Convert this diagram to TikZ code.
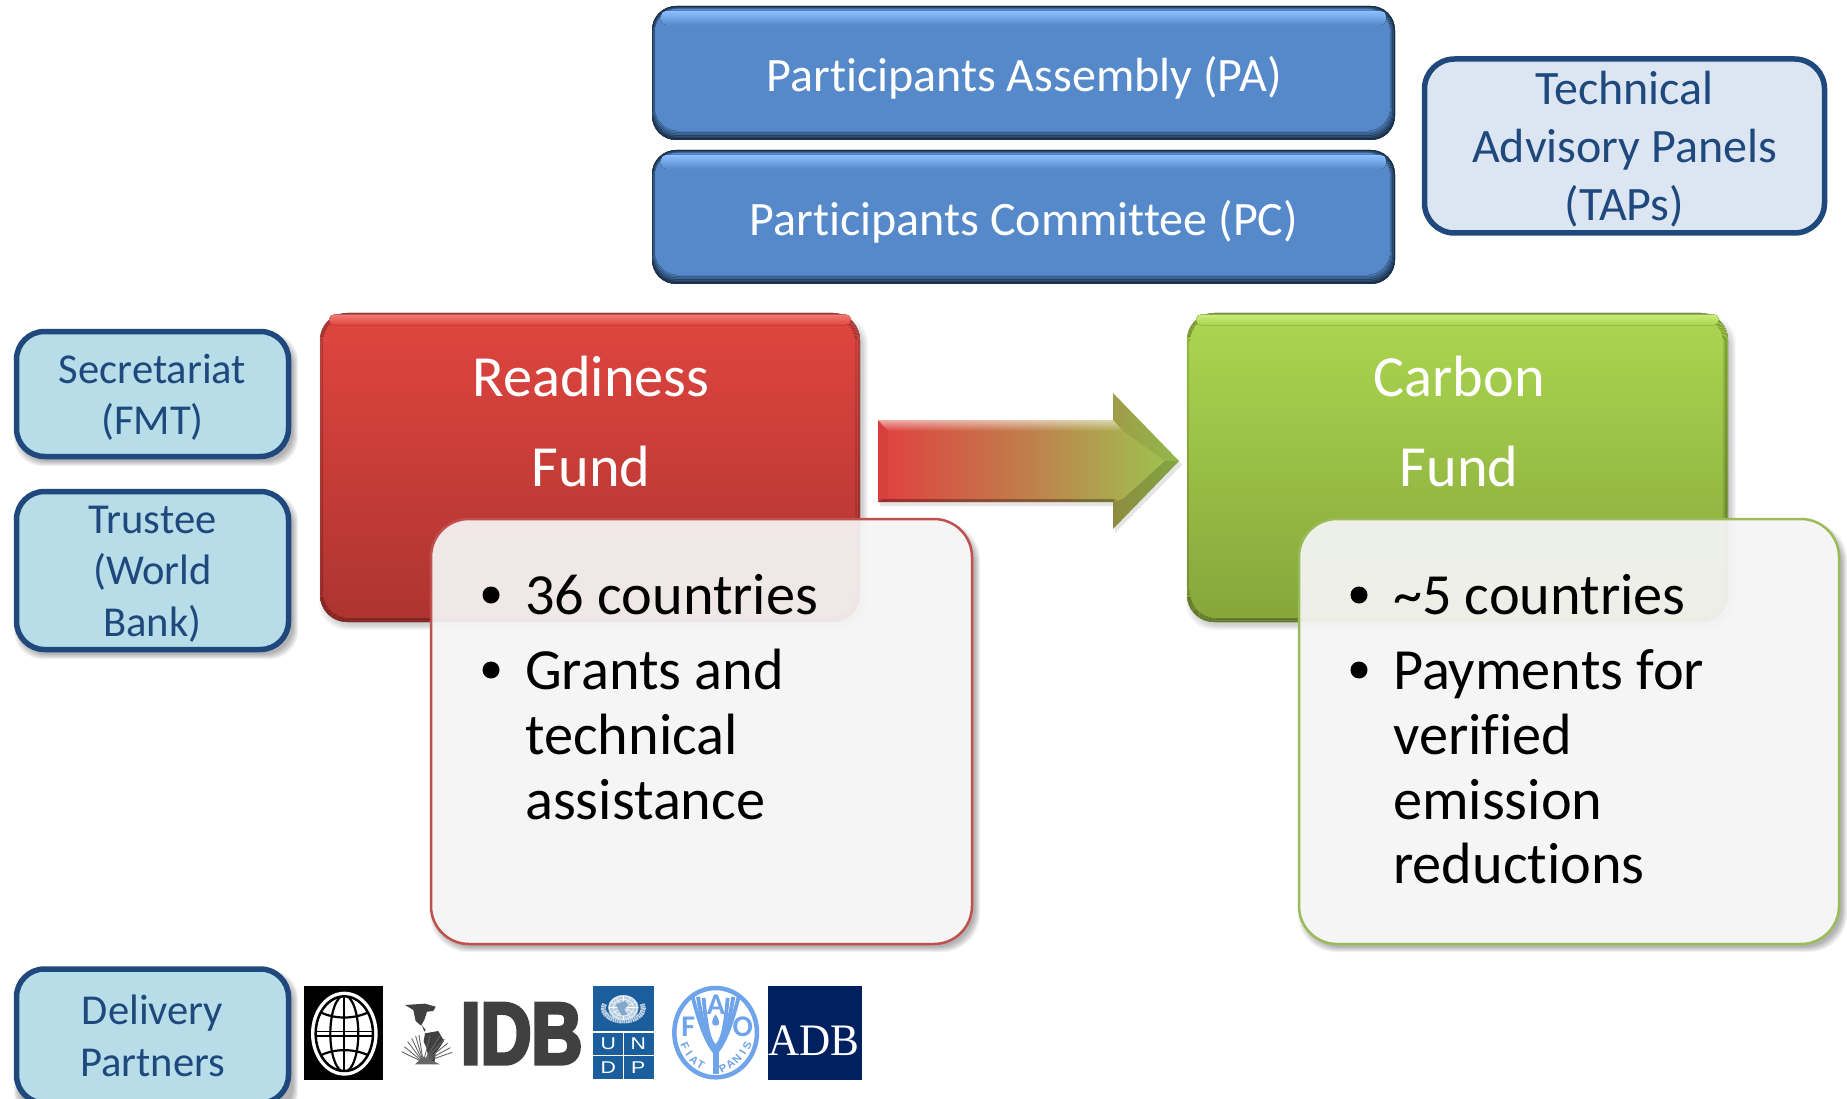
\documentclass[tikz,border=0pt]{standalone}
\usetikzlibrary{fadings}
\usepackage{fontspec}
\setmainfont{Carlito}[Ligatures={NoCommon,NoRequired,NoContextual}]
\newfontfamily\idbf[FakeStretch=.8,BoldFeatures={FakeBold=4,FakeStretch=.8}]{Liberation Sans}
\newfontfamily\undpf{Liberation Sans}
\newfontfamily\undpw[FakeStretch=1.25]{Liberation Sans}
\newfontfamily\adbf[FakeStretch=.96]{Liberation Serif}
\definecolor{navyline}{HTML}{1F497D}
\definecolor{paleblue}{HTML}{B7DDE8}
\definecolor{paleblue2}{HTML}{DCE6F2}
\definecolor{unblue}{HTML}{1A5E9E}
\definecolor{faoblue}{HTML}{6FA3EA}
\definecolor{adbnavy}{HTML}{002060}
\definecolor{idbgrey}{HTML}{404040}
\definecolor{redline}{HTML}{C0504D}
\definecolor{greenline}{HTML}{9BBB59}
\definecolor{blueface}{HTML}{5589C9}
\definecolor{blueedge}{HTML}{1B3350}
\definecolor{bluehi}{HTML}{8CBFFF}
\definecolor{redtop}{HTML}{E0453F}
\definecolor{redbot}{HTML}{AE3431}
\definecolor{rededge}{HTML}{A8322F}
\definecolor{redtopedge}{HTML}{D8504C}
\definecolor{redhi}{HTML}{F47A74}
\definecolor{greentop}{HTML}{ABD650}
\definecolor{greenbot}{HTML}{86A63B}
\definecolor{greenedge}{HTML}{7F9C37}
\definecolor{greentopedge}{HTML}{A8D052}
\definecolor{greenhi}{HTML}{C8EC78}
\definecolor{arrowred}{HTML}{E0403F}
\definecolor{arrowmid}{HTML}{C07F4C}
\definecolor{arrowgreen}{HTML}{9CC850}
\newcommand\fs[2]{\fontsize{#1}{#2}\selectfont}
\newcommand\softshadow[6]{%
  \foreach \i in {0,...,5}{\fill[black,opacity=#6,rounded corners=#5pt]
    ({#1+\i-1},{#2+\i+3}) rectangle ({#3+8-\i},{#4+10-\i});}}
% x1 y1 x2 y2 r edge facetop facebottom highlight
\newcommand\bevelbox[9]{%
  \fill[top color=\topedge,bottom color=#6,rounded corners=#5pt] (#1,#2) rectangle (#3,#4);
  \foreach \t/\p in {1/17,2/33,3/50,4/67,5/83,6/100}{%
    \fill[top color=#7!\p!\topedge,bottom color=#8!\p!#6,rounded corners=#5pt]
      ({#1+\t*.45},{#2+\t*.4}) rectangle ({#3-\t*.8},{#4-\t*\bevB});}
  \fill[top color=#9,bottom color=#7,rounded corners=5pt]
    ({#1+9},{#2+\bandt}) rectangle ({#3-9},{#2+\bandh});}
\tikzset{
  sidebox/.style={draw=navyline,line width=5.5pt,fill=paleblue,rounded corners=28pt},
  sidelabel/.style={align=center,text=navyline,font=\fs{42.6}{51.5}},
  toplabel/.style={text=white,font=\fs{48}{58},align=center},
  fundlabel/.style={text=white,font=\fs{58.3}{90},align=center},
  bodytext/.style={text=black,font=\fs{58.3}{64.8},align=left,anchor=base west,inner sep=0pt},
  dot/.style={circle,fill=black,minimum size=17pt,inner sep=0pt},
  infobox/.style={rounded corners=38pt,fill=black!4,fill opacity=.93,line width=2.5pt},
}
\begin{document}
\begin{tikzpicture}[x=1pt,y=-1pt]
\useasboundingbox (0,0) rectangle (1847,1099);
\fill[white] (0,0) rectangle (1847,1099);
% top boxes
\def\bandt{5}\def\bandh{19}\def\bevB{1.5}\def\topedge{blueedge}
\bevelbox{652}{6}{1395}{140}{24}{blueedge}{blueface}{blueface}{bluehi}
\bevelbox{652}{150}{1395}{284}{24}{blueedge}{blueface}{blueface}{bluehi}
\node[toplabel] (pa) at (1024,77.5) {Participants Assembly (PA)};
\node[toplabel] (pc) at (1024,221.5) {Participants Committee (PC)};
% TAPs
\node[sidebox,fill=paleblue2,minimum width=400pt,minimum height=174pt,rounded corners=30pt] (tapbox) at (1624.5,146) {};
\node[sidelabel,font=\fs{48}{58}] (taps) at ([yshift=-3.5pt]tapbox.center) {Technical\\Advisory Panels\\(TAPs)};
% side boxes
\softshadow{15}{330}{290}{456}{28}{.055}
\node[sidebox,minimum width=272pt,minimum height=125pt] (secbox) at (152.5,394) {};
\node[sidelabel] (sec) at ([yshift=-3.5pt]secbox.center) {Secretariat\\(FMT)};
\softshadow{15}{490}{290}{649}{28}{.055}
\node[sidebox,minimum width=272pt,minimum height=158pt] (trubox) at (152.5,570.5) {};
\node[sidelabel] (tru) at ([yshift=-3.5pt]trubox.center) {Trustee\\(World\\Bank)};
\softshadow{15}{967}{290}{1110}{28}{.055}
\node[sidebox,minimum width=272pt,minimum height=134pt] (delbox) at (152.5,1036) {};
\node[sidelabel] (del) at (delbox.center) {Delivery\\Partners};
% funds
\def\bandt{1.5}\def\bandh{12}\def\bevB{.6}
\softshadow{320}{313}{860}{620}{27}{.03}
\def\topedge{redtopedge}
\bevelbox{320}{313}{860}{622}{27}{rededge}{redtop}{redbot}{redhi}
\softshadow{1187}{313}{1728}{620}{27}{.03}
\def\topedge{greentopedge}
\bevelbox{1187}{313}{1728}{622}{27}{greenedge}{greentop}{greenbot}{greenhi}
\node[fundlabel] (rf) at (591,421) {Readiness\\Fund};
\node[fundlabel] (cf) at (1459,421) {Carbon\\Fund};
% arrow
\fill[black,opacity=.1] (880,424) -- (1115,424) -- (1115,397) -- (1182,465) -- (1115,533) -- (1115,506) -- (880,506) -- cycle;
\shade[left color=arrowred,right color=arrowgreen,middle color=arrowmid] 
  (878,420) -- (1113,420) -- (1113,393) -- (1179,461) -- (1113,529) -- (1113,502) -- (878,502) -- cycle;
\fill[white,opacity=.55,path fading=south] (878,420) -- (1113,420) -- (1123,431) -- (888,431) -- cycle;
\fill[black,opacity=.04] (878,420) -- (888,431) -- (888,497) -- (878,502) -- cycle;
\fill[black,opacity=.3] (878,502) -- (1113,502) -- (1116,499) -- (883,499) -- cycle;
\fill[black,opacity=.07] (1113,393) -- (1179,461) -- (1165,461) -- (1123,431) -- (1113,420) -- cycle;
\fill[black,opacity=.17] (1113,529) -- (1179,461) -- (1165,461) -- (1123,499) -- (1113,502) -- cycle;
% info boxes
\begin{scope}[even odd rule,rounded corners=38pt]
  \clip (-200,-200) rectangle (2100,1300) (431,519) rectangle (972,944);
  \softshadow{431}{519}{972}{942}{38}{.055}
\end{scope}
\draw[infobox,draw=redline] (431,519) rectangle (972,944);
\begin{scope}[even odd rule,rounded corners=38pt]
  \clip (-200,-200) rectangle (2100,1300) (1299,519) rectangle (1839,944);
  \softshadow{1299}{519}{1839}{942}{38}{.055}
\end{scope}
\draw[infobox,draw=greenline] (1299,519) rectangle (1839,944);
\node[dot] (b1) at (491,595) {};
\node[dot] (b2) at (491,670) {};
\node[bodytext] (t1) at (525,614) {36 countries};
\node[bodytext] (t2) at (525,689) {Grants and};
\node[bodytext] (t3) at (525,754) {technical};
\node[bodytext] (t4) at (525,819) {assistance};
\node[dot] (b3) at (1359,595) {};
\node[dot] (b4) at (1359,670) {};
\node[bodytext] (u1) at (1393,614) {\char`\~5 countries};
\node[bodytext] (u2) at (1393,689) {Payments for};
\node[bodytext] (u3) at (1393,754) {verified};
\node[bodytext] (u4) at (1393,819) {emission};
\node[bodytext] (u5) at (1393,883) {reductions};
% World Bank and IDB logos
\begin{scope}[shift={(295,975)},x=.3333pt,y=-.3333pt]
  \fill[black] (27,33) rectangle (264,315);
  \fill[white] (148,176) ellipse [x radius=100,y radius=126];
  \draw[black,line width=2.5pt] (148,176) ellipse [x radius=86,y radius=112];
  \begin{scope}
    \clip (148,176) ellipse [x radius=86,y radius=112];
    \draw[black,line width=2.2pt] (148,60) -- (148,292);
    \draw[black,line width=2.2pt] (148,176) ellipse [x radius=42,y radius=115];
    \draw[black,line width=1.6pt] (55,170) -- (240,170) (55,183) -- (240,183);
    \draw[black,line width=2.2pt] (65,105) .. controls (110,135) and (186,135) .. (232,105);
    \draw[black,line width=2.2pt] (65,248) .. controls (110,218) and (186,218) .. (232,248);
  \end{scope}
  % IDB emblem
  \fill[idbgrey] (330,90) -- (390,86) -- (422,95) -- (415,108) -- (396,110) -- (388,135) -- (378,152) -- (362,138) -- (355,105) -- cycle;
  \fill[idbgrey] (380,150) -- (392,165) -- (388,170) -- cycle;
  \fill[idbgrey] (390,175) -- (430,168) -- (447,198) -- (422,235) -- (418,268) -- (400,264) -- (396,222) -- (386,200) -- cycle;
  \foreach \a/\b in {320/230,328/215,338/200,350/190,362/183,372/180,405/182,435/183,448/192,458/205,466/218,472/232}{
    \draw[idbgrey!80,line width=.9pt] (\a,\b) -- (385,262);}
  \fill[idbgrey!80] (360,268) -- (385,245) -- (435,268) -- cycle;
  \node[text=idbgrey,inner sep=0pt] (idb) at (680,176) {\idbf\bfseries\fs{88}{88}IDB};
\end{scope}
% UNDP, FAO and ADB logos
\begin{scope}[shift={(585,975)},x=.3333pt,y=-.3333pt]
  \fill[unblue] (24,33) rectangle (206,312);
  \fill[white] (24,168) rectangle (206,173);
  \fill[white] (24,240) rectangle (206,244);
  \fill[white] (113,173) rectangle (117,312);
  % UN emblem
  \draw[white!72!unblue,line width=5pt,dash pattern=on 1.6pt off .6pt] (115,100) ++(200:60 and 38) arc[start angle=200,end angle=-20,x radius=60,y radius=38];
  \fill[white!70!unblue] (115,98) ellipse [x radius=46,y radius=38];
  \foreach \r in {.33,.66,.92}{\draw[white,line width=.5pt] (115,98) ellipse [x radius={46*\r},y radius={38*\r}];}
  \foreach \a in {0,30,...,330}{\draw[white,line width=.4pt] (115,98) -- ++({44*cos(\a)},{36*sin(\a)});}
  \fill[unblue!55!white] (92,88) -- (120,78) -- (130,90) -- (118,104) -- (128,118) -- (112,122) -- (100,104) -- cycle;
  \tikzset{undpl/.style={text=white,inner sep=0pt,font=\undpw\fs{17}{17}}}
  \node[undpl] (lu) at (70,206) {U};
  \node[undpl] (ln) at (160,206) {N};
  \node[undpl] (ld) at (70,278) {D};
  \node[undpl] (lp) at (160,278) {P};
  % FAO
  \draw[faoblue,line width=4.5pt,fill=white] (392,173) ellipse [x radius=124,y radius=134];
  \foreach \d in {0,17,34}{
    \draw[faoblue,line width=3.8pt] ({322+\d},{62+\d*.2}) .. controls ({342+\d*.6},{140+\d*.3}) and ({362+\d*.3},{200+\d*.1}) .. (392,{235-\d*.6});
    \draw[faoblue,line width=3.8pt] ({462-\d},{62+\d*.2}) .. controls ({442-\d*.6},{140+\d*.3}) and ({422-\d*.3},{200+\d*.1}) .. (392,{235-\d*.6});}
  \fill[faoblue] (392,118) .. controls (380,135) and (376,152) .. (392,152) .. controls (408,152) and (404,135) .. (392,118) -- cycle;
  \fill[faoblue] (383,222) -- (401,222) -- (401,298) -- (383,298) -- cycle;
  \node[text=faoblue,inner sep=0pt,font=\bfseries\fs{30}{30}] (fa) at (393,90) {A};
  \node[text=faoblue,inner sep=0pt,font=\bfseries\fs{30}{30}] (ff) at (310,155) {F};
  \node[text=faoblue,inner sep=0pt,font=\bfseries\fs{30}{30}] (fo) at (473,155) {O};
  \tikzset{fp/.style={text=faoblue,inner sep=0pt,font=\undpf\bfseries\fs{11}{11}}}
  \node[fp,rotate=-65] (p1) at (300,214) {F};
  \node[fp,rotate=-55] (p2) at (312,235) {I};
  \node[fp,rotate=-42] (p3) at (327,255) {A};
  \node[fp,rotate=-30] (p4) at (347,270) {T};
  \node[fp,rotate=28] (p5) at (414,280) {P};
  \node[fp,rotate=38] (p6) at (436,268) {A};
  \node[fp,rotate=48] (p7) at (456,252) {N};
  \node[fp,rotate=58] (p8) at (473,233) {I};
  \node[fp,rotate=68] (p9) at (487,212) {S};
  % ADB
  \fill[adbnavy] (548,33) rectangle (830,315);
  \node[text=white,inner sep=0pt] (adb) at (686,197) {\adbf\fs{45}{45}ADB};
\end{scope}
\end{tikzpicture}
\end{document}
